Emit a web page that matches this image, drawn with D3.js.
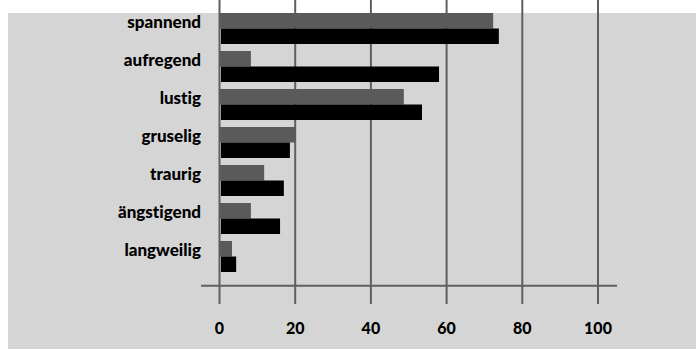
<!DOCTYPE html>
<html>
<head>
<meta charset="utf-8">
<script src="https://cdn.jsdelivr.net/npm/d3@7"></script>
<style>
  body { margin: 0; background: #fff; }
  svg text { font-family: Lato, "DejaVu Sans", sans-serif; font-weight: 900; fill: #000; font-variant-ligatures: none; }
</style>
</head>
<body>
<div id="chart"></div>
<script>
// categories and two series (values in percent)
var categories = ["spannend", "aufregend", "lustig", "gruselig", "traurig", "ängstigend", "langweilig"];
var seriesA = [72.3, 8.3, 48.7, 20.2, 11.8, 8.3, 3.3];
var seriesB = [73.8, 58.0, 53.5, 18.6, 17.0, 16.0, 4.4];
var tickValues = [0, 20, 40, 60, 80, 100];

var width = 696, height = 349;

var svg = d3.select("#chart").append("svg")
  .attr("width", width)
  .attr("height", height);

// gray panel
svg.append("rect")
  .attr("x", 8)
  .attr("y", 13)
  .attr("width", width - 8)
  .attr("height", height - 13)
  .attr("fill", "#d5d5d5");

var x = d3.scaleLinear().domain([0, 100]).range([219.5, 598]);
var y = d3.scaleBand().domain(categories).range([9.5, 275.5]).paddingInner(0.184).paddingOuter(0.092);
var barH = y.bandwidth() / 2;

// vertical grid lines
svg.selectAll(".grid")
  .data(tickValues)
  .enter().append("line")
  .attr("class", "grid")
  .attr("x1", function (d) { return x(d); })
  .attr("x2", function (d) { return x(d); })
  .attr("y1", 0)
  .attr("y2", 304)
  .attr("stroke", "#5f5f5f")
  .attr("stroke-width", 2);

// horizontal axis line
svg.append("line")
  .attr("x1", 201)
  .attr("x2", 617)
  .attr("y1", 285.7)
  .attr("y2", 285.7)
  .attr("stroke", "#5f5f5f")
  .attr("stroke-width", 2);

// bars
svg.selectAll(".barA")
  .data(seriesA)
  .enter().append("rect")
  .attr("class", "barA")
  .attr("x", x(0))
  .attr("y", function (d, i) { return y(categories[i]); })
  .attr("width", function (d) { return x(d) - x(0); })
  .attr("height", barH)
  .attr("fill", "#5a5a5a");

svg.selectAll(".barB")
  .data(seriesB)
  .enter().append("rect")
  .attr("class", "barB")
  .attr("x", x(0) + 1.5)
  .attr("y", function (d, i) { return y(categories[i]) + barH; })
  .attr("width", function (d) { return x(d) - x(0) - 1.5; })
  .attr("height", barH)
  .attr("fill", "#000");

// category labels
svg.selectAll(".catLabel")
  .data(categories)
  .enter().append("text")
  .attr("class", "catLabel")
  .attr("x", 201)
  .attr("y", function (d) { return y(d) + barH - 0.5; })
  .style("text-anchor", "end")
  .style("font-size", "17px")
  .text(function (d) { return d; });

// tick labels
svg.selectAll(".tickLabel")
  .data(tickValues)
  .enter().append("text")
  .attr("class", "tickLabel")
  .attr("x", function (d) { return x(d); })
  .attr("y", 334.3)
  .style("text-anchor", "middle")
  .style("font-size", "16px")
  .text(function (d) { return d; });
</script>
</body>
</html>
